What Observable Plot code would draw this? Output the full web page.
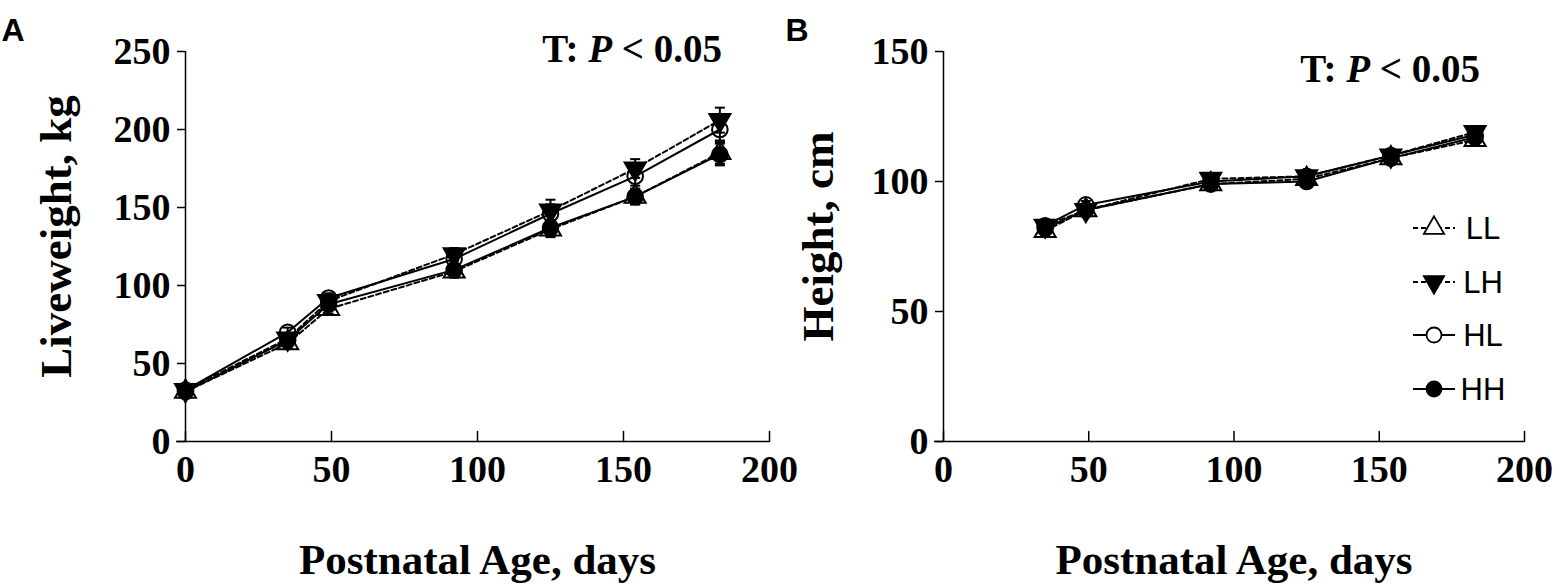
<!DOCTYPE html>
<html><head><meta charset="utf-8">
<script src="https://cdn.jsdelivr.net/npm/d3@7"></script>
<script src="https://cdn.jsdelivr.net/npm/@observablehq/plot@0.6"></script>
<style>
html,body{margin:0;padding:0;background:#fff;}
#wrap{position:relative;width:1562px;height:587px;overflow:hidden;background:#fff;}
#wrap svg{position:absolute;top:0;}
</style></head><body><div id="wrap"></div>
<script>
// ---- data ----
const groups = ["LL", "LH", "HL", "HH"];
const xTicks = [0, 50, 100, 150, 200];

const weightDays = [0, 35, 49, 92, 125, 154, 183];
const weightLL = [32, 63, 85, 109, 136, 157, 185];
const weightLH = [33, 66, 90, 120, 148, 175, 206];
const weightHL = [33, 70, 92, 117, 146, 170, 200];
const weightHH = [32, 65, 88, 110, 137, 157, 184];
const weightSeLL = [2, 3, 3, 4, 5, 5, 7];
const weightSeLH = [2, 3, 3, 4, 7, 6, 8];
const weightSeHL = [2, 3, 3, 4, 6, 6, 7];
const weightSeHH = [2, 3, 3, 4, 5, 5, 7];
const weightTicks = [0, 50, 100, 150, 200, 250];

const heightDays = [35, 49, 92, 125, 154, 183];
const heightLL = [81, 89, 99, 101, 109, 116];
const heightLH = [83, 89, 101, 102, 110, 119];
const heightHL = [83, 91, 100, 102, 110, 118];
const heightHH = [82, 89, 99, 100, 109, 117];
const heightSeLL = [2, 1.5, 1.5, 1.5, 1.5, 2];
const heightSeLH = [2, 1.5, 1.5, 1.5, 1.5, 2];
const heightSeHL = [2, 1.5, 1.5, 1.5, 1.5, 2];
const heightSeHH = [2, 1.5, 1.5, 1.5, 1.5, 2];
const heightTicks = [0, 50, 100, 150];

// ---- styles ----
const SERIF = "'Liberation Serif', 'Times New Roman', serif";
const SANS = "'Liberation Sans', Arial, sans-serif";
const triangleDown = {
  draw(ctx, size) {
    const y = -Math.sqrt(size / (Math.sqrt(3) * 3));
    ctx.moveTo(0, -y * 2);
    ctx.lineTo(-Math.sqrt(3) * y, y);
    ctx.lineTo(Math.sqrt(3) * y, y);
    ctx.closePath();
  }
};
const capSymbol = {
  draw(ctx, size) { const r = Math.sqrt(size / Math.PI); ctx.moveTo(-r, 0); ctx.lineTo(r, 0); }
};
const tickUp = { draw(ctx, l) { ctx.moveTo(0, 0); ctx.lineTo(0, -l); } };
const groupStyle = {
  LL: {dash: "5,3", symbol: "triangle", fill: "none"},
  LH: {dash: "5,3", symbol: triangleDown, fill: "black"},
  HL: {dash: null, symbol: "circle", fill: "none"},
  HH: {dash: null, symbol: "circle", fill: "black"}
};

function table(days, vals, ses) {
  const rows = [];
  groups.forEach((g, gi) => days.forEach((d, i) => rows.push({group: g, day: d, v: vals[gi][i], se: ses[gi][i]})));
  return rows;
}

function panel({rows, yTicks, yLabel, width, marginLeft, marginRight, titleDx}) {
  const marks = [
    Plot.ruleX([0], {stroke: "black", strokeWidth: 1.5}),
    Plot.ruleY([0], {stroke: "black", strokeWidth: 1.5, insetLeft: -9}),
    Plot.vector(xTicks, {x: d => d, y: 0, length: 10, rotate: 0, anchor: "start", shape: tickUp, stroke: "black", strokeWidth: 1.5}),
    Plot.axisY({ticks: yTicks, tickSize: 8, tickPadding: 7, fontSize: 38, label: null, strokeWidth: 1.5}),
    Plot.axisX({ticks: xTicks, tickSize: 0, tickPadding: 14, fontSize: 38, label: null}),
    Plot.ruleX(rows, {x: "day", y1: d => d.v - d.se, y2: d => d.v + d.se, stroke: "black", strokeWidth: 2}),
    Plot.dot(rows, {x: "day", y: d => d.v + d.se, symbol: capSymbol, r: 5, stroke: "black", fill: "none", strokeWidth: 2}),
    Plot.dot(rows, {x: "day", y: d => d.v - d.se, symbol: capSymbol, r: 5, stroke: "black", fill: "none", strokeWidth: 2})
  ];
  for (const g of groups) {
    const s = groupStyle[g];
    marks.push(Plot.line(rows.filter(d => d.group === g), {x: "day", y: "v", stroke: "black", strokeWidth: 2, strokeDasharray: s.dash}));
  }
  for (const g of groups) {
    const s = groupStyle[g];
    marks.push(Plot.dot(rows.filter(d => d.group === g), {x: "day", y: "v", symbol: s.symbol, r: 7.8, stroke: "black", fill: s.fill, strokeWidth: 2}));
  }
  marks.push(Plot.text([yLabel], {text: d => d, frameAnchor: "left", textAnchor: "middle", rotate: -90, dx: titleDx, dy: -10, fontSize: 45, fontFamily: SERIF, fontWeight: "bold", lineAnchor: "middle"}));
  marks.push(Plot.text(["Postnatal Age, days"], {text: d => d, frameAnchor: "bottom", textAnchor: "middle", dy: 119, fontSize: 43, fontFamily: SERIF, fontWeight: "bold", lineAnchor: "middle"}));
  return Plot.plot({
    width, height: 587,
    marginLeft, marginRight, marginTop: 51, marginBottom: 146,
    x: {domain: [0, 200]},
    y: {domain: [0, yTicks[yTicks.length - 1]]},
    style: {fontFamily: SERIF, fontWeight: "bold", color: "black", background: "none", overflow: "visible"},
    marks
  });
}

const rowsA = table(weightDays, [weightLL, weightLH, weightHL, weightHH], [weightSeLL, weightSeLH, weightSeHL, weightSeHH]);
const rowsB = table(heightDays, [heightLL, heightLH, heightHL, heightHH], [heightSeLL, heightSeLH, heightSeHL, heightSeHH]);

const svgA = panel({rows: rowsA, yTicks: weightTicks, yLabel: "Liveweight, kg", width: 781, marginLeft: 185, marginRight: 12, titleDx: -129});
const svgB = panel({rows: rowsB, yTicks: heightTicks, yLabel: "Height, cm", width: 781, marginLeft: 162, marginRight: 38, titleDx: -125});
svgA.style.left = "0px";
svgB.style.left = "781px";
const wrap = document.getElementById("wrap");
wrap.appendChild(svgA);
wrap.appendChild(svgB);

function annotate(svg, letter, letterX, tx, ty) {
  const s = d3.select(svg);
  s.append("text").attr("x", letterX).attr("y", 41).style("font-family", SANS).style("font-weight", "bold").style("font-size", "32px").text(letter);
  const t = s.append("text").attr("x", tx).attr("y", ty).attr("text-anchor", "end").style("font-family", SERIF).style("font-weight", "bold").style("font-size", "39px");
  t.append("tspan").text("T: ");
  t.append("tspan").style("font-style", "italic").text("P");
  t.append("tspan").text(" < 0.05");
}
annotate(svgA, "A", 13, 722, 62);
annotate(svgB, "B", 16, 699, 82);

// legend in panel B
const lg = d3.select(svgB).append("g");
const legendY = [228, 282, 335, 389];
groups.forEach((g, i) => {
  const s = groupStyle[g];
  const y = legendY[i];
  lg.append("line").attr("x1", 632).attr("x2", 674).attr("y1", y).attr("y2", y).attr("stroke", "black").attr("stroke-width", 1.8).attr("stroke-dasharray", s.dash);
  const type = s.symbol === "triangle" ? d3.symbolTriangle : s.symbol === "circle" ? d3.symbolCircle : triangleDown;
  lg.append("path").attr("d", d3.symbol(type, Math.PI * 7.5 * 7.5)()).attr("transform", `translate(653,${y})`)
    .attr("fill", s.fill === "none" ? "white" : "black").attr("stroke", "black").attr("stroke-width", 1.8);
  lg.append("text").attr("x", 702).attr("y", y).attr("dy", "0.36em").style("font-family", SANS).style("font-weight", "normal").style("font-size", "31px").text(g);
});
</script></body></html>
